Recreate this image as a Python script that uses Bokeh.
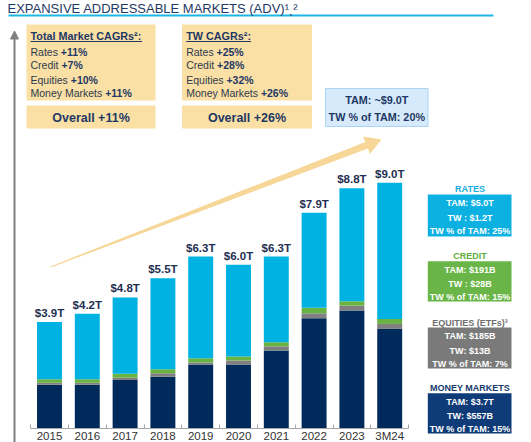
import numpy as np
from bokeh.plotting import figure
from bokeh.models import Range1d, FixedTicker, Label, ColumnDataSource, Arrow, NormalHead
from bokeh.core.properties import value
from bokeh.embed import file_html
from bokeh.resources import INLINE

# ---------------- data ----------------
years = ["2015", "2016", "2017", "2018", "2019", "2020", "2021", "2022", "2023", "3M24"]
money_markets = [1.60, 1.60, 1.78, 1.90, 2.34, 2.34, 2.86, 4.04, 4.32, 3.65]
equities = [0.08, 0.08, 0.08, 0.12, 0.08, 0.15, 0.15, 0.18, 0.18, 0.18]
credit = [0.12, 0.12, 0.15, 0.15, 0.15, 0.15, 0.15, 0.20, 0.16, 0.18]
rates = [2.10, 2.40, 2.79, 3.33, 3.73, 3.36, 3.14, 3.48, 4.14, 4.99]
total_labels = ["$3.9T", "$4.2T", "$4.8T", "$5.5T", "$6.3T", "$6.0T", "$6.3T", "$7.9T", "$8.8T", "$9.0T"]

cagr_names = ["Rates", "Credit", "Equities", "Money Markets"]
total_cagr = ["+11%", "+7%", "+10%", "+11%"]
tw_cagr = ["+25%", "+28%", "+32%", "+26%"]
total_overall = "Overall +11%"
tw_overall = "Overall +26%"
tam_box = ["TAM: ~$9.0T", "TW % of TAM: 20%"]

seg_titles = ["RATES", "CREDIT", "EQUITIES (ETFs)\u00b3", "MONEY MARKETS"]
seg_tam = ["TAM: $5.0T", "TAM: $191B", "TAM: $185B", "TAM: $3.7T"]
seg_tw = ["TW : $1.2T", "TW : $28B", "TW: $13B", "TW: $557B"]
seg_pct = ["TW % of TAM: 25%", "TW % of TAM: 15%", "TW % of TAM: 7%", "TW % of TAM: 15%"]

# ---------------- styles ----------------
NAVY = "#002a5c"
CYAN = "#00b2e2"
GREEN = "#69b342"
GRAY = "#808080"
TXT = "#1f3864"
TAN = "#fae0a5"
SANS = "'Liberation Sans', Arial, sans-serif"

# Arial / Liberation Sans advance widths (1/1000 em), regular and bold
W_REG = {" ": 278, "R": 722, "a": 556, "t": 278, "e": 556, "s": 500, "C": 722, "r": 333,
         "d": 556, "i": 222, "E": 667, "q": 556, "u": 556, "M": 833, "o": 556, "n": 556,
         "y": 500, "k": 500}
W_BOLD = {" ": 278, "T": 611, "o": 611, "t": 333, "a": 556, "l": 278, "M": 833, "r": 389,
          "k": 556, "e": 556, "C": 722, "A": 722, "G": 778, "R": 722, "s": 556,
          "\u00b2": 333, ":": 333, "W": 944}
def text_w(s, size, table):
    return sum(table.get(c, 556) for c in s) * size / 1000.0

# layout helpers: window pixel position -> data coordinates
X0, DX = 49.0, 37.8
BASE, PPT = 428.0, 27.3
W, H = 531, 442
def sx(px): return (px - X0) / DX
def sy(py): return (BASE - py) / PPT

p = figure(width=W, height=H, output_backend="svg", toolbar_location=None,
           x_range=Range1d(sx(0), sx(W)), y_range=Range1d(sy(H), sy(0)),
           y_axis_location=None, min_border=0, min_border_left=0, min_border_right=0,
           min_border_top=0, min_border_bottom=0)
p.outline_line_color = None
p.grid.visible = False
p.background_fill_color = "white"

# ---------------- bars ----------------
idx = list(range(len(years)))
src = ColumnDataSource(dict(x=idx, mm=money_markets, eq=equities, cr=credit, ra=rates))
p.vbar_stack(["mm", "eq", "cr", "ra"], x="x", width=0.66, source=src,
             color=[NAVY, GRAY, GREEN, CYAN], line_color=None)
totals = [a + b + c + d for a, b, c, d in zip(money_markets, equities, credit, rates)]
p.text(x=idx, y=totals, text=total_labels, text_align="center", text_baseline="bottom",
       y_offset=-3, text_font=value(SANS), text_font_style="bold",
       text_font_size="11.5px", text_color="#1f2f52")

# ---------------- x axis (pinned at y = 0, inside the plot area) ----------------
ax = p.xaxis[0]
ax.fixed_location = 0
ax.ticker = FixedTicker(ticks=idx, minor_ticks=[i - 0.5 for i in range(len(years) + 1)])
ax.major_label_overrides = {i: y for i, y in enumerate(years)}
ax.bounds = (-0.5, len(years) - 0.5)
ax.axis_line_color = "#a6a6a6"
ax.major_tick_line_color = None
ax.major_tick_in = 0
ax.major_tick_out = 0
ax.minor_tick_line_color = "#a6a6a6"
ax.minor_tick_in = 4
ax.minor_tick_out = 0
ax.major_label_standoff = 1
ax.major_label_text_font = SANS
ax.major_label_text_font_size = "11.5px"
ax.major_label_text_color = "#333333"

# ---------------- title ----------------
p.add_layout(Label(x=sx(7), y=sy(8), text="EXPANSIVE ADDRESSABLE MARKETS (ADV)\u00b9\u02ce\u00b2",
                   text_font=SANS, text_font_size="13px", text_color=TXT,
                   text_baseline="middle"))
p.segment(x0=[sx(8)], y0=[sy(15)], x1=[sx(493)], y1=[sy(15)], line_color="#1cb5e8", line_width=2)

# ---------------- left vertical arrow ----------------
p.add_layout(Arrow(x_start=sx(14), y_start=sy(H + 2), x_end=sx(14), y_end=sy(30.5),
                   line_color=GRAY, line_width=2,
                   end=NormalHead(size=8, fill_color=GRAY, line_color=GRAY)))

# ---------------- growth arrow ----------------
tail = np.array([50.0, 266.5]); tip = np.array([381.0, 139.0])
d = tip - tail; L = np.hypot(*d); u = d / L; n = np.array([-u[1], u[0]])
s_end = tail + u * (L - 16)
pts = [tail - 0.6 * n, s_end - 3.6 * n, s_end - 9.5 * n, tip, s_end + 9.5 * n, s_end + 3.6 * n, tail + 0.6 * n]
p.patch(x=[sx(q[0]) for q in pts], y=[sy(q[1]) for q in pts], color="#f6d797", line_color=None)

# ---------------- CAGR boxes ----------------
boxes_l = [26, 26, 181.5, 181.5]
boxes_r = [155, 155, 311.5, 311.5]
boxes_t = [24, 105, 24, 105]
boxes_b = [100, 128, 100, 128]
p.quad(left=[sx(v) for v in boxes_l], right=[sx(v) for v in boxes_r],
       top=[sy(v) for v in boxes_t], bottom=[sy(v) for v in boxes_b],
       fill_color=TAN, line_color=None)

HEAD_FS = 10.8
head_x = [30, 185.7]
head_txt = ["Total Market CAGRs\u00b2:", "TW CAGRs\u00b2:"]
for hx, ht in zip(head_x, head_txt):
    p.add_layout(Label(x=sx(hx), y=sy(35.5), text=ht, text_font=SANS, text_font_size=f"{HEAD_FS}px",
                       text_font_style="bold", text_color=TXT, text_baseline="middle"))
    he = hx + text_w(ht, HEAD_FS, W_BOLD)
    p.segment(x0=[sx(hx)], y0=[sy(41)], x1=[sx(he)], y1=[sy(41)], line_color=TXT, line_width=1)

LINE_FS = 10.5
line_y = [51, 64.7, 79, 92.5]
for name, yv, v1, v2 in zip(cagr_names, line_y, total_cagr, tw_cagr):
    for bx, vt in ((30, v1), (185.7, v2)):
        p.add_layout(Label(x=sx(bx), y=sy(yv), text=name, text_font=SANS, text_font_size=f"{LINE_FS}px",
                           text_color="#2e3a4e", text_baseline="middle"))
        vx = bx + text_w(name + " ", LINE_FS, W_REG)
        p.add_layout(Label(x=sx(vx), y=sy(yv), text=vt, text_font=SANS, text_font_size=f"{LINE_FS}px",
                           text_font_style="bold", text_color=TXT, text_baseline="middle"))

for cx, t in ((90.5, total_overall), (246.5, tw_overall)):
    p.add_layout(Label(x=sx(cx), y=sy(117), text=t, text_font=SANS, text_font_size="12.5px",
                       text_font_style="bold", text_color=TXT, text_align="center",
                       text_baseline="middle"))

# TAM box
p.quad(left=[sx(325)], right=[sx(427.5)], top=[sy(88)], bottom=[sy(126)],
       fill_color="#d6eafb", line_color="#a9d4f3", line_width=1)
for ty, t in zip([99.5, 116], tam_box):
    p.add_layout(Label(x=sx(376.3), y=sy(ty), text=t, text_font=SANS, text_font_size="10.8px",
                       text_font_style="bold", text_color=TXT, text_align="center",
                       text_baseline="middle"))

# ---------------- segment legend boxes ----------------
seg_colors = ["#0db1e1", "#6ab547", "#7a7a7a", "#0f3b78"]
seg_title_colors = ["#19aee0", "#5fae3a", "#6f6f6f", "#163a6e"]
title_y = [188, 255.7, 322.3, 387.3]
box_top = [194, 260.7, 327, 392.7]
box_bot = [236, 301, 368, 433]
BOX_L, BOX_R = 427.3, 511.0
p.quad(left=[sx(BOX_L)] * 4, right=[sx(BOX_R)] * 4, top=[sy(v) for v in box_top],
       bottom=[sy(v) for v in box_bot], fill_color=seg_colors, line_color=None)
for i in range(4):
    p.add_layout(Label(x=sx(469.5), y=sy(title_y[i]), text=seg_titles[i], text_font=SANS,
                       text_font_size="9px", text_font_style="bold", text_color=seg_title_colors[i],
                       text_align="center", text_baseline="middle"))
    for off, t in zip([8.5, 23, 36], [seg_tam[i], seg_tw[i], seg_pct[i]]):
        p.add_layout(Label(x=sx(469.5), y=sy(box_top[i] + off), text=t, text_font=SANS,
                           text_font_size="9px", text_font_style="bold", text_color="white",
                           text_align="center", text_baseline="middle"))

open("out.html", "w").write(file_html(p, INLINE))
